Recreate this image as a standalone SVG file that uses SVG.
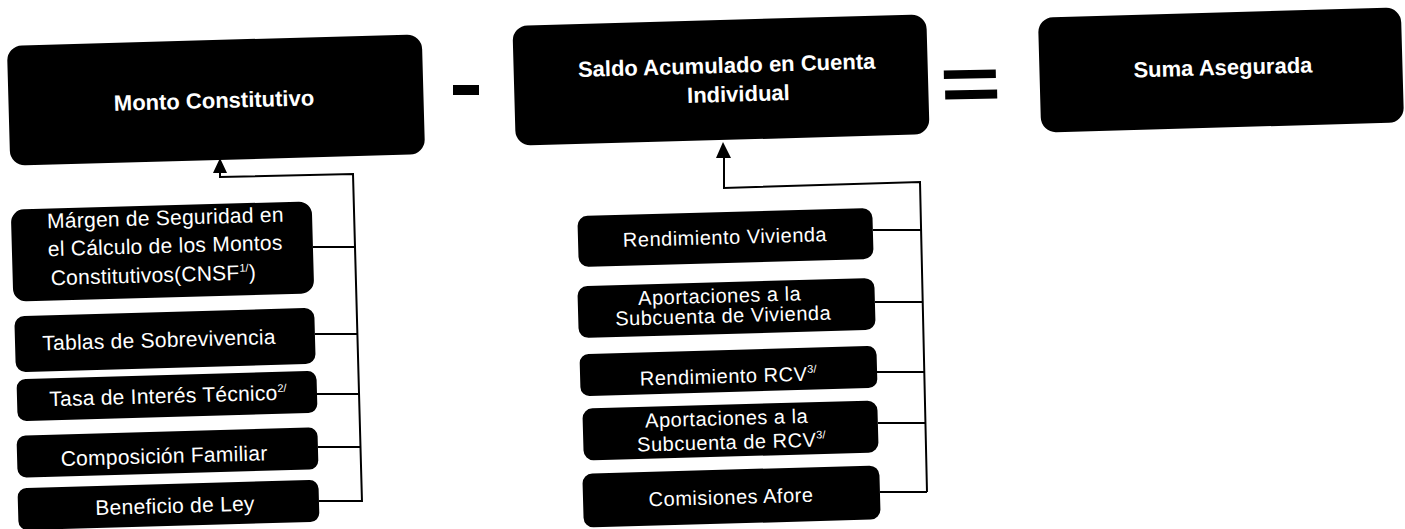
<svg xmlns="http://www.w3.org/2000/svg" width="1405" height="529" viewBox="0 0 1405 529">
<style>
  .box { fill: #000; }
  .t { fill: #fff; font-family: "Liberation Sans", Arial, sans-serif; }
  .hd { font-size: 22px; font-weight: bold; text-anchor: middle; }
  .lf { font-size: 21px; letter-spacing: 0.25px; }
  .rt { font-size: 20px; letter-spacing: 0.5px; text-anchor: middle; }
  .sup { font-size: 11px; letter-spacing: 0; }
  .ln { fill: none; stroke: #000; stroke-width: 2; }
  .op { fill: #000; }
</style>
<rect width="1405" height="529" fill="#fff"/>

<!-- Main nodes -->
<g id="monto-constitutivo" transform="rotate(-1.6 216 100)">
  <rect class="box" x="8.5" y="40" width="415" height="120" rx="15"/>
  <text class="t hd" x="214" y="108">Monto Constitutivo</text>
</g>
<g id="saldo-acumulado" transform="rotate(-1.6 721 80)">
  <rect class="box" x="514" y="20" width="414" height="120" rx="15"/>
  <text class="t hd" x="727" y="73">Saldo Acumulado en Cuenta</text>
  <text class="t hd" x="738" y="102">Individual</text>
</g>
<g id="suma-asegurada" transform="rotate(-1.6 1221 70)">
  <rect class="box" x="1039.5" y="12.5" width="363" height="115" rx="15"/>
  <text class="t hd" x="1223" y="75" style="font-weight:600">Suma Asegurada</text>
</g>

<!-- Operators -->
<g id="minus"><rect class="op" x="453" y="85" width="26" height="10"/></g>
<g id="equals" transform="rotate(-1 970 84)">
  <rect class="op" x="944" y="70" width="52" height="8.5"/>
  <rect class="op" x="945" y="90" width="52" height="9"/>
</g>

<!-- Left inputs -->
<g id="margen-seguridad" transform="rotate(-1.6 162.5 251.5)">
  <rect class="box" x="12" y="205.5" width="301" height="92" rx="13"/>
  <text class="t lf" x="48" y="225">Márgen de Seguridad en</text>
  <text class="t lf" x="48" y="253">el Cálculo de los Montos</text>
  <text class="t lf" x="50" y="282">Constitutivos(CNSF<tspan class="sup" dy="-8">1/</tspan><tspan dy="8">)</tspan></text>
</g>
<g id="tablas-sobrevivencia" transform="rotate(-1.6 165 340)">
  <rect class="box" x="15" y="312" width="300" height="56" rx="10"/>
  <text class="t lf" x="159" y="347" text-anchor="middle">Tablas de Sobrevivencia</text>
</g>
<g id="tasa-interes" transform="rotate(-1.6 167 396)">
  <rect class="box" x="17" y="375" width="300" height="42" rx="9"/>
  <text class="t lf" x="168" y="403" text-anchor="middle">Tasa de Interés Técnico<tspan class="sup" dy="-8">2/</tspan></text>
</g>
<g id="composicion-familiar" transform="rotate(-1.6 167.5 452.5)">
  <rect class="box" x="17" y="431.5" width="301" height="42" rx="9"/>
  <text class="t lf" x="164" y="463" text-anchor="middle">Composición Familiar</text>
</g>
<g id="beneficio-ley" transform="rotate(-1.6 168.5 505)">
  <rect class="box" x="18" y="484" width="301" height="42" rx="9"/>
  <text class="t lf" x="175" y="513" text-anchor="middle">Beneficio de Ley</text>
</g>

<!-- Right inputs -->
<g id="rendimiento-vivienda" transform="rotate(-1.6 725.5 237.5)">
  <rect class="box" x="578" y="212" width="295" height="51" rx="10"/>
  <text class="t rt" x="725" y="244">Rendimiento Vivienda</text>
</g>
<g id="aportaciones-vivienda" transform="rotate(-1.6 726.5 308)">
  <rect class="box" x="578" y="282" width="297" height="52" rx="10"/>
  <text class="t rt" x="720" y="302.5">Aportaciones a la</text>
  <text class="t rt" x="723" y="322.5">Subcuenta de Vivienda</text>
</g>
<g id="rendimiento-rcv" transform="rotate(-1.6 728.5 371)">
  <rect class="box" x="580" y="350" width="297" height="42" rx="9"/>
  <text class="t rt" x="728" y="383">Rendimiento RCV<tspan class="sup" dy="-8">3/</tspan></text>
</g>
<g id="aportaciones-rcv" transform="rotate(-1.6 730.5 430.5)">
  <rect class="box" x="583" y="404.5" width="295" height="52" rx="10"/>
  <text class="t rt" x="727" y="425">Aportaciones a la</text>
  <text class="t rt" x="731" y="449">Subcuenta de RCV<tspan class="sup" dy="-8">3/</tspan></text>
</g>
<g id="comisiones-afore" transform="rotate(-1.6 731.5 496.5)">
  <rect class="box" x="583" y="469.5" width="297" height="54" rx="10"/>
  <text class="t rt" x="731" y="504">Comisiones Afore</text>
</g>

<!-- Connectors -->
<g id="connectors">
  <polygon class="op" points="220,158 213,173 227,173"/>
  <polyline class="ln" points="220,172 220,177 353,174 362,502"/>
  <line class="ln" x1="313" y1="247" x2="355" y2="247"/>
  <line class="ln" x1="315" y1="334" x2="358" y2="334"/>
  <line class="ln" x1="317" y1="394" x2="359.5" y2="394"/>
  <line class="ln" x1="318" y1="447" x2="361" y2="447"/>
  <line class="ln" x1="319" y1="501" x2="362" y2="501"/>

  <polygon class="op" points="723,142 716,158 731,158"/>
  <polyline class="ln" points="724,157 724,188 920,182 927,492"/>
  <line class="ln" x1="873" y1="230" x2="921" y2="230"/>
  <line class="ln" x1="875" y1="302" x2="922.5" y2="302"/>
  <line class="ln" x1="877" y1="372" x2="924" y2="372"/>
  <line class="ln" x1="878" y1="423" x2="925.5" y2="423"/>
  <line class="ln" x1="880" y1="492" x2="927" y2="492"/>
</g>
</svg>
